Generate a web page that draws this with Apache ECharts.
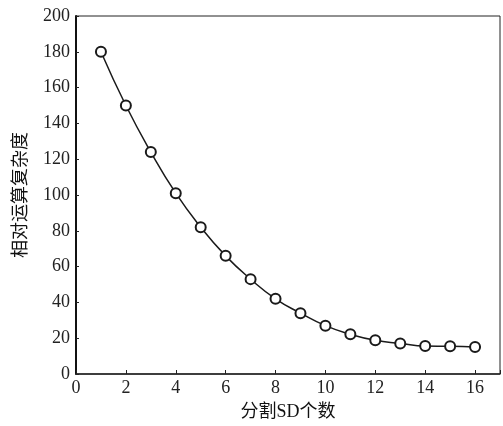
<!DOCTYPE html>
<html><head><meta charset="utf-8">
<script src="https://cdn.jsdelivr.net/npm/echarts@6/dist/echarts.min.js"></script>
<style>html,body{margin:0;padding:0;background:#fff}#c{width:503px;height:426px}</style>
</head><body><div id="c"></div>
<script>
const xValues = [1,2,3,4,5,6,7,8,9,10,11,12,13,14,15,16];
const yValues = [180,150,124,101,82,66,53,42,34,27,22.2,18.8,17.1,15.6,15.5,15.1];
const xName = '分割SD个数';
const yName = '相对运算复杂度';
const data = xValues.map((x,i)=>[x,yValues[i]]);
const chart = echarts.init(document.getElementById('c'));
const lab = {fontFamily:'Liberation Serif', fontSize:18, color:'#222'};
chart.setOption({
  backgroundColor:'#fff',
  animation:false,
  grid:{left:76,right:3,top:16,bottom:52,show:true,borderColor:'#222',borderWidth:1},
  xAxis:{type:'value',min:0,max:17,interval:2,
    name:xName,nameLocation:'middle',nameGap:29,
    nameTextStyle:{fontFamily:'Liberation Serif, Noto Sans CJK SC',fontSize:18,color:'#111'},
    axisLine:{lineStyle:{color:'#222',width:1.5}},
    axisTick:{inside:true,length:4,lineStyle:{color:'#222'}},
    axisLabel:Object.assign({margin:5,formatter:v=>(v%2===0?String(v):'')},lab),
    splitLine:{show:false}},
  yAxis:{type:'value',min:0,max:200,interval:20,
    name:yName,nameLocation:'middle',nameGap:46,
    nameTextStyle:{fontFamily:'Liberation Serif, Noto Sans CJK SC',fontSize:18,color:'#111'},
    axisLine:{show:true,lineStyle:{color:'#111',width:2}},
    axisTick:{show:true,inside:true,length:3,lineStyle:{color:'#222'}},
    axisLabel:Object.assign({margin:6},lab),
    splitLine:{show:false}},
  series:[{type:'line',data:data,smooth:true,
    symbol:'circle',symbolSize:10,
    lineStyle:{color:'#1a1a1a',width:1.5},
    itemStyle:{color:'#fff',borderColor:'#1a1a1a',borderWidth:2}}]
});
</script></body></html>
